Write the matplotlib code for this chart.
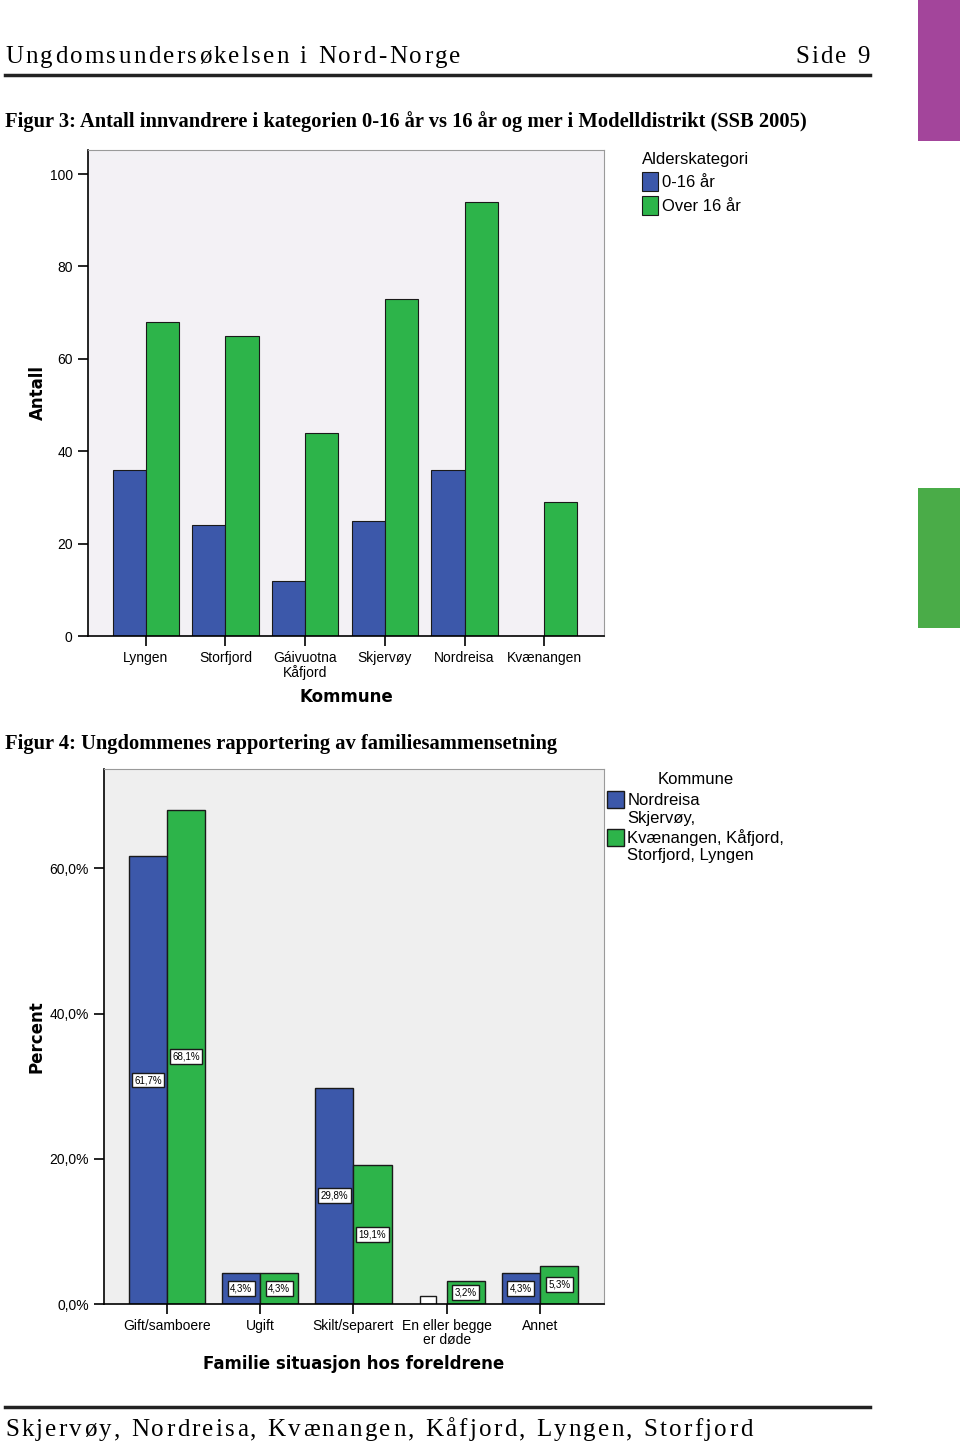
import matplotlib
matplotlib.use("Agg")
import matplotlib.pyplot as plt
from matplotlib.patches import Rectangle
from matplotlib.lines import Line2D
from matplotlib.font_manager import FontProperties
import numpy as np

W, H = 960, 1446

# Figur 3 data
kommuner = ["Lyngen", "Storfjord", "Gáivuotna\nKåfjord", "Skjervøy", "Nordreisa", "Kvænangen"]
antall_0_16 = [36, 24, 12, 25, 36, 0]
antall_over16 = [68, 65, 44, 73, 94, 29]

# Figur 4 data
situasjon = ["Gift/samboere", "Ugift", "Skilt/separert", "En eller begge\ner døde", "Annet"]
pct_nordreisa = [61.7, 4.3, 29.8, 1.1, 4.3]
lab_nordreisa = ["61,7%", "4,3%", "29,8%", None, "4,3%"]
pct_andre = [68.1, 4.3, 19.1, 3.2, 5.3]
lab_andre = ["68,1%", "4,3%", "19,1%", "3,2%", "5,3%"]

BLUE = "#3c58aa"
GREEN = "#2db44a"
SANS = ["Liberation Sans", "DejaVu Sans"]
SERIF = ["Liberation Serif", "DejaVu Serif"]

fig = plt.figure(figsize=(W / 100, H / 100), dpi=100)
fig.patch.set_facecolor("white")
renderer = fig.canvas.get_renderer()


def rect(l, t, r, b):
    return [l / W, 1 - b / H, (r - l) / W, (b - t) / H]


def spaced_text(x, y, s, size, spacing):
    fp = FontProperties(family=SERIF, size=size)
    for ch in s:
        fig.text(x / W, 1 - y / H, ch, fontproperties=fp, va="baseline", ha="left")
        w, _, _ = renderer.get_text_width_height_descent(ch, fp, ismath=False)
        x += w + spacing
    return x


# side tabs
fig.patches.append(Rectangle((918 / W, 1 - 141 / H), 42 / W, 141 / H, transform=fig.transFigure,
                             facecolor="#a3459b", edgecolor="none"))
fig.patches.append(Rectangle((918 / W, 1 - 628 / H), 42 / W, 140 / H, transform=fig.transFigure,
                             facecolor="#4aac48", edgecolor="none"))

# header / footer
spaced_text(5, 63, "Ungdomsundersøkelsen i Nord-Norge", 18, 2.3)
spaced_text(795, 63, "Side 9", 18, 2.3)
fig.lines.append(Line2D([5 / W, 870 / W], [1 - 75 / H] * 2, transform=fig.transFigure, color="#222222", lw=2.5))
fig.lines.append(Line2D([5 / W, 870 / W], [1 - 1407 / H] * 2, transform=fig.transFigure, color="#222222", lw=2.5))
spaced_text(5, 1436, "Skjervøy, Nordreisa, Kvænangen, Kåfjord, Lyngen, Storfjord", 18, 2.3)

fig.text(5 / W, 1 - 127 / H, "Figur 3: Antall innvandrere i kategorien 0-16 år vs 16 år og mer i Modelldistrikt (SSB 2005)",
         family=SERIF, weight="bold", size=14.75, va="baseline")
fig.text(5 / W, 1 - 749 / H, "Figur 4: Ungdommenes rapportering av familiesammensetning",
         family=SERIF, weight="bold", size=14.75, va="baseline")


def style_axes(ax, face):
    ax.set_facecolor(face)
    for s in ["top", "right"]:
        ax.spines[s].set_color("#9a9a9a")
        ax.spines[s].set_linewidth(0.8)
    for s in ["left", "bottom"]:
        ax.spines[s].set_color("black")
        ax.spines[s].set_linewidth(1.2)
    ax.tick_params(length=7, width=1.2, color="black", labelsize=10, pad=4)
    for lab in ax.get_xticklabels() + ax.get_yticklabels():
        lab.set_family(SANS)


# ---- Figur 3 ----
ax1 = fig.add_axes(rect(88, 150, 604, 636))
x = np.arange(len(kommuner))
bw = 0.415
ax1.bar(x - bw / 2, antall_0_16, bw, color=BLUE, edgecolor="#1a1a1a", linewidth=0.8, label="0-16 år")
ax1.bar(x + bw / 2, antall_over16, bw, color=GREEN, edgecolor="#1a1a1a", linewidth=0.8, label="Over 16 år")
ax1.set_xlim(-0.725, 5.75)
ax1.set_ylim(0, 105.2)
ax1.set_yticks([0, 20, 40, 60, 80, 100])
ax1.set_xticks(x)
ax1.set_xticklabels(kommuner, linespacing=0.95)
style_axes(ax1, "#f3f1f5")
ax1.set_ylabel("Antall", family="DejaVu Sans", weight="bold", size=12, labelpad=2)
ax1.set_xlabel("Kommune", family="DejaVu Sans", weight="bold", size=12, labelpad=6)
leg1 = ax1.legend(loc="upper left", bbox_to_anchor=(1.07, 1.0), frameon=False, title="Alderskategori",
                  prop={"family": SANS, "size": 12}, handlelength=1.0, handleheight=1.3,
                  handletextpad=0.2, labelspacing=0.35, borderaxespad=0, borderpad=0.1)
leg1.get_title().set_family(SANS)
leg1.get_title().set_size(12)
leg1._legend_box.align = "left"

# ---- Figur 4 ----
ax2 = fig.add_axes(rect(104, 769, 604, 1304))
x2 = np.arange(len(situasjon))
bw2 = 0.41
ax2.set_xlim(-0.675, 4.686)
ax2.set_ylim(0, 73.7)
for i in range(len(situasjon)):
    if lab_nordreisa[i] is None:
        ax2.bar(x2[i] - bw2 / 2, pct_nordreisa[i], bw2 * 0.42, color="white", edgecolor="#1a1a1a", linewidth=1.0)
    else:
        ax2.bar(x2[i] - bw2 / 2, pct_nordreisa[i], bw2, color=BLUE, edgecolor="#1a1a1a", linewidth=1.0,
                label="Nordreisa" if i == 0 else None)
    ax2.bar(x2[i] + bw2 / 2, pct_andre[i], bw2, color=GREEN, edgecolor="#1a1a1a", linewidth=1.0,
            label="Skjervøy,\nKvænangen, Kåfjord,\nStorfjord, Lyngen" if i == 0 else None)
box = dict(boxstyle="square,pad=0.25", facecolor="white", edgecolor="#1a1a1a", linewidth=1.0)
for i in range(len(situasjon)):
    if lab_nordreisa[i] is not None:
        ax2.text(x2[i] - bw2 / 2, pct_nordreisa[i] / 2, lab_nordreisa[i], ha="center", va="center",
                 size=7, family=SANS, bbox=box)
    ax2.text(x2[i] + bw2 / 2, pct_andre[i] / 2, lab_andre[i], ha="center", va="center",
             size=7, family=SANS, bbox=box)
ax2.set_yticks([0, 20, 40, 60])
ax2.set_yticklabels(["0,0%", "20,0%", "40,0%", "60,0%"])
ax2.set_xticks(x2)
ax2.set_xticklabels(situasjon, linespacing=0.95)
style_axes(ax2, "#efefef")
ax2.set_ylabel("Percent", family="DejaVu Sans", weight="bold", size=12, labelpad=3)
ax2.set_xlabel("Familie situasjon hos foreldrene", family="DejaVu Sans", weight="bold", size=12, labelpad=6)
leg2 = ax2.legend(loc="upper left", bbox_to_anchor=(1.0, 1.0), frameon=False, title="Kommune",
                  prop={"family": SANS, "size": 12}, handlelength=1.0, handleheight=1.2,
                  handletextpad=0.2, labelspacing=0.2, borderaxespad=0, borderpad=0.2)
leg2.get_title().set_family(SANS)
leg2.get_title().set_size(12)

fig.savefig("out.png", dpi=100)
